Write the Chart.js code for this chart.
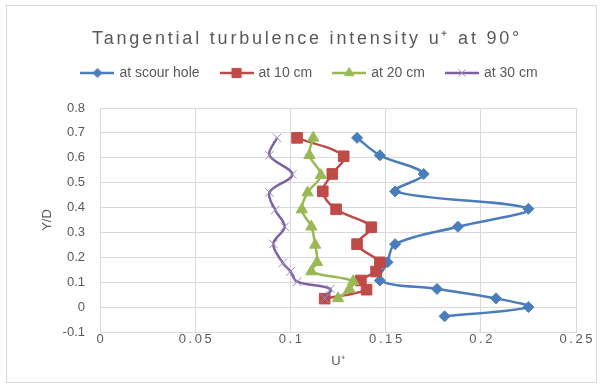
<!DOCTYPE html>
<html>
<head>
<meta charset="utf-8">
<script src="https://cdn.jsdelivr.net/npm/chart.js@4.4.1/dist/chart.umd.min.js"></script>
<style>
  html, body { margin: 0; padding: 0; background: #fff; }
  #wrap { position: relative; width: 603px; height: 387px; }
</style>
</head>
<body>
<div id="wrap"><canvas id="grafica" width="603" height="387"></canvas></div>
<script>
var titulo = 'Tangential turbulence intensity u\u207A at 90\u00B0';
var series = ['at scour hole', 'at 10 cm', 'at 20 cm', 'at 30 cm'];

// U+ values (x) and Y/D (y) of each series
var scourX = [0.135, 0.147, 0.170, 0.155, 0.225, 0.188, 0.155, 0.151, 0.147, 0.177, 0.208, 0.225, 0.181];
var scourY = [0.68, 0.61, 0.535, 0.465, 0.395, 0.323, 0.253, 0.18, 0.107, 0.073, 0.035, 0.0, -0.037];
var cm10X = [0.1035, 0.128, 0.122, 0.117, 0.124, 0.1425, 0.135, 0.147, 0.145, 0.137, 0.140, 0.118];
var cm10Y = [0.68, 0.606, 0.535, 0.465, 0.393, 0.321, 0.253, 0.18, 0.143, 0.107, 0.07, 0.034];
var cm20X = [0.112, 0.110, 0.116, 0.109, 0.106, 0.111, 0.113, 0.114, 0.111, 0.133, 0.131, 0.125];
var cm20Y = [0.68, 0.61, 0.53, 0.46, 0.392, 0.323, 0.25, 0.18, 0.143, 0.104, 0.072, 0.035];
var cm30X = [0.093, 0.089, 0.101, 0.089, 0.092, 0.097, 0.091, 0.096, 0.100, 0.1035, 0.121, 0.118];
var cm30Y = [0.68, 0.61, 0.533, 0.461, 0.39, 0.323, 0.254, 0.178, 0.143, 0.102, 0.073, 0.035];

var xTicks = [0, 0.05, 0.1, 0.15, 0.2, 0.25];
var xTickLabels = ['0', '0.05', '0.1', '0.15', '0.2', '0.25'];
var yTicks = [-0.1, 0, 0.1, 0.2, 0.3, 0.4, 0.5, 0.6, 0.7, 0.8];
var yTickLabels = ['-0.1', '0', '0.1', '0.2', '0.3', '0.4', '0.5', '0.6', '0.7', '0.8'];

var colores = ['#4A7EBB', '#BE4B48', '#98B954', '#7D60A0'];
var bordes = ['#4A7EBB', '#BE4B48', '#98B954', '#9C88C0'];
var marcas = ['rectRot', 'rect', 'triangle', 'crossRot'];
var radios = [5.5, 7.5, 6.5, 6];

function puntos(xs, ys) {
    var p = [];
    for (var i = 0; i < xs.length; i++) {
        p.push({x: xs[i], y: ys[i]});
    }
    return p;
}

// little line + marker picture for the legend
function icono(i) {
    var c = document.createElement('canvas');
    c.width = 34;
    c.height = 16;
    var g = c.getContext('2d');
    g.strokeStyle = colores[i];
    g.lineWidth = 2.5;
    g.beginPath();
    g.moveTo(0, 8);
    g.lineTo(34, 8);
    g.stroke();
    g.fillStyle = colores[i];
    g.strokeStyle = bordes[i];
    g.lineWidth = 1;
    Chart.helpers.drawPoint(g, {
        pointStyle: marcas[i],
        radius: radios[i] - 1,
        borderWidth: 1
    }, 17, 8);
    return c;
}

function conjunto(i, xs, ys) {
    return {
        label: series[i],
        data: puntos(xs, ys),
        showLine: true,
        tension: 0.35,
        borderColor: colores[i],
        backgroundColor: colores[i],
        borderWidth: 2.5,
        pointStyle: marcas[i],
        pointRadius: radios[i],
        pointBorderWidth: 1,
        pointBorderColor: bordes[i],
        pointBackgroundColor: colores[i],
        order: 4 - i
    };
}

var fondo = {
    id: 'fondo',
    beforeLayout: function (chart) {
        // extra room under the legend, like the excel plot
        var lg = chart.legend;
        if (lg && !lg._alto) {
            var fit = lg.fit;
            lg.fit = function () {
                fit.call(this);
                this.height += 18;
            };
            lg._alto = true;
        }
    },
    beforeDraw: function (chart) {
        var ctx = chart.ctx;
        ctx.save();
        ctx.fillStyle = '#fff';
        ctx.fillRect(0, 0, chart.width, chart.height);
        ctx.strokeStyle = '#D9D9D9';
        ctx.lineWidth = 1;
        ctx.strokeRect(6.5, 5.5, 590, 377);
        ctx.fillStyle = '#595959';
        ctx.font = '18px "Liberation Sans"';
        ctx.letterSpacing = '2.8px';
        ctx.textAlign = 'center';
        ctx.textBaseline = 'alphabetic';
        ctx.fillText(titulo, 307, 44);
        ctx.restore();
    }
};

var ctx = document.getElementById('grafica');
var iconos = [icono(0), icono(1), icono(2), icono(3)];

var mychart = new Chart(ctx, {
    type: 'scatter',
    data: {
        datasets: [
            conjunto(0, scourX, scourY),
            conjunto(1, cm10X, cm10Y),
            conjunto(2, cm20X, cm20Y),
            conjunto(3, cm30X, cm30Y)
        ]
    },
    plugins: [fondo],
    options: {
        responsive: false,
        animation: false,
        layout: {
            padding: {top: 44, left: 44, right: 27, bottom: 15}
        },
        plugins: {
            tooltip: {enabled: false},
            title: {display: false},
            legend: {
                position: 'top',
                labels: {
                    usePointStyle: true,
                    pointStyleWidth: 30,
                    padding: 22,
                    color: '#595959',
                    font: {family: 'Liberation Sans', size: 14},
                    sort: function (a, b) { return a.datasetIndex - b.datasetIndex; },
                    generateLabels: function (chart) {
                        var items = Chart.defaults.plugins.legend.labels.generateLabels(chart);
                        items.forEach(function (it) {
                            it.pointStyle = iconos[it.datasetIndex];
                        });
                        return items;
                    }
                }
            }
        },
        scales: {
            x: {
                type: 'linear',
                min: 0,
                max: 0.25,
                afterBuildTicks: function (scale) {
                    scale.ticks = xTicks.map(function (v) { return {value: v}; });
                },
                afterFit: function (scale) { scale.height = 40; },
                grid: {color: '#D9D9D9', drawTicks: false},
                border: {color: '#D9D9D9'},
                ticks: {
                    padding: 0,
                    color: '#595959',
                    font: {family: 'Liberation Sans', size: 13},
                    maxRotation: 0,
                    callback: function (v, i) {
                        return xTickLabels[i].split('').join('\u2009');
                    }
                },
                title: {
                    display: true,
                    text: 'U\u207A',
                    color: '#595959',
                    font: {family: 'Liberation Sans', size: 13},
                    padding: {top: 0, bottom: 3}
                }
            },
            y: {
                type: 'linear',
                min: -0.1,
                max: 0.8,
                afterBuildTicks: function (scale) {
                    scale.ticks = yTicks.map(function (v) { return {value: v}; });
                },
                afterFit: function (scale) { scale.width = 56; },
                grid: {color: '#D9D9D9', drawTicks: false},
                border: {color: '#D9D9D9'},
                ticks: {
                    padding: 15,
                    color: '#595959',
                    font: {family: 'Liberation Sans', size: 13},
                    callback: function (v, i) { return yTickLabels[i]; }
                },
                title: {
                    display: true,
                    text: 'Y/D',
                    color: '#595959',
                    font: {family: 'Liberation Sans', size: 13},
                    padding: {top: -4, bottom: 0}
                }
            }
        }
    }
});
</script>
</body>
</html>
